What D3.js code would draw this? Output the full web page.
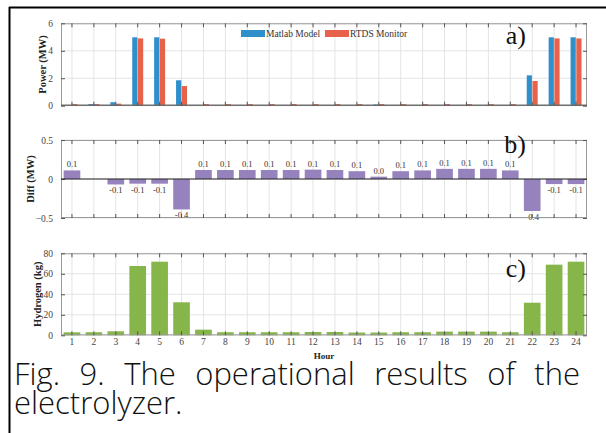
<!DOCTYPE html>
<html>
<head>
<meta charset="utf-8">
<script src="https://cdn.jsdelivr.net/npm/d3@7"></script>
<style>
  html, body { margin: 0; padding: 0; background: #fff; }
  #wrap { position: relative; width: 606px; height: 433px; overflow: hidden; }
  svg { position: absolute; left: 0; top: 0; }
  #caption {
    position: absolute; left: 14px; top: 359px; width: 566px;
    font-family: "Open Sans", "Noto Sans", sans-serif; font-weight: 300; font-size: 31px; line-height: 29px;
    text-align: justify; color: #111;
  }
</style>
</head>
<body>
<div id="wrap">
  <svg id="chart" width="606" height="433"></svg>
  <div id="caption">Fig. 9. The operational results of the electrolyzer.</div>
</div>
<script>
// Hourly operation of the electrolyzer
const hours = d3.range(1, 25);
const seriesNames = ["Matlab Model", "RTDS Monitor"];
const matlabPower = [0, 0.12, 0.25, 4.98, 4.98, 1.85, 0, 0, 0, 0, 0, 0, 0, 0, 0.09, 0, 0, 0, 0, 0, 0, 2.21, 4.98, 4.98];
const rtdsPower   = [0.12, 0.12, 0.15, 4.9, 4.88, 1.43, 0.12, 0.12, 0.12, 0.12, 0.12, 0.12, 0.12, 0.12, 0.12, 0.12, 0.12, 0.12, 0.12, 0.12, 0.12, 1.8, 4.9, 4.9];
const powerDiff   = [0.11, null, -0.07, -0.06, -0.06, -0.39, 0.115, 0.115, 0.115, 0.115, 0.115, 0.12, 0.115, 0.1, 0.03, 0.1, 0.11, 0.13, 0.13, 0.13, 0.11, -0.41, -0.065, -0.065];
const hydrogen    = [2.9, 3.0, 3.9, 67.6, 71.8, 32.2, 5.5, 3.0, 3.0, 3.0, 3.0, 3.2, 3.2, 2.7, 2.7, 3.0, 3.0, 3.6, 3.6, 3.6, 3.0, 31.8, 68.9, 71.8];
const powerTicks = [0, 2, 4, 6];
const diffTicks = [-0.5, 0, 0.5];
const hydrogenTicks = [0, 20, 40, 60, 80];

const colors = { "Matlab Model": "#2e8fcb", "RTDS Monitor": "#e8614b", diff: "#9682bd", hydrogen: "#86b64a" };
const serif = "'Liberation Serif', 'Times New Roman', serif";

const svg = d3.select("#chart");

// outer frame of the figure
svg.append("line").attr("x1", 9).attr("x2", 606).attr("y1", 7.5).attr("y2", 7.5)
  .attr("stroke", "#000").attr("stroke-width", 2);
svg.append("line").attr("x1", 9.5).attr("x2", 9.5).attr("y1", 7).attr("y2", 433)
  .attr("stroke", "#000").attr("stroke-width", 2);

const left = 61, right = 587;
const x = d3.scaleBand().domain(hours).range([left, right]).paddingInner(0.24).paddingOuter(0.12);
const xGroup = d3.scaleBand().domain(hours).range([left, right]).paddingInner(0.5).paddingOuter(0.25);
const xSub = d3.scaleBand().domain(seriesNames).range([0, xGroup.bandwidth()]).paddingInner(0.1);
const cx = h => x(h) + x.bandwidth() / 2;

// Common MATLAB-like axes box: grid, frame, inward ticks, y labels
function panel(y, ticks, fmt, yLabel, labelX, tag, tagY, showX) {
  const [y0, y1] = y.range();
  const g = svg.append("g");
  // grid
  g.append("g").selectAll("line").data(hours).join("line")
    .attr("x1", cx).attr("x2", cx).attr("y1", y1).attr("y2", y0)
    .attr("stroke", "#e4e4e4").attr("stroke-width", 1);
  g.append("g").selectAll("line").data(ticks).join("line")
    .attr("x1", left).attr("x2", right).attr("y1", d => y(d)).attr("y2", d => y(d))
    .attr("stroke", "#e4e4e4").attr("stroke-width", 1);
  const marks = svg.append("g");
  const over = svg.append("g");
  // frame
  over.append("rect").attr("x", left + 0.5).attr("y", y1 + 0.5)
    .attr("width", right - left - 1).attr("height", y0 - y1 - 1)
    .attr("fill", "none").attr("stroke", "#9a9a9a").attr("stroke-width", 1);
  // inward ticks on all four sides
  const axL = d3.axisLeft(y).tickValues(ticks).tickSize(-4).tickFormat(fmt).tickPadding(8);
  const axR = d3.axisRight(y).tickValues(ticks).tickSize(-4).tickFormat("");
  const axT = d3.axisTop(x).tickSize(-4).tickFormat("");
  const axB = d3.axisBottom(x).tickSize(-4).tickFormat(showX ? d => d : "").tickPadding(3);
  const style = sel => {
    sel.select(".domain").remove();
    sel.selectAll(".tick line").attr("stroke", "#555");
    sel.selectAll("text").attr("font-family", serif).attr("font-size", 9.5).attr("fill", "#444");
  };
  over.append("g").attr("transform", `translate(${left},0)`).call(axL).call(style);
  over.append("g").attr("transform", `translate(${right},0)`).call(axR).call(style);
  over.append("g").attr("transform", `translate(0,${y1})`).call(axT).call(style);
  over.append("g").attr("transform", `translate(0,${y0})`).call(axB).call(style);
  // y label
  over.append("text").attr("transform", `translate(${labelX},${(y0 + y1) / 2}) rotate(-90)`)
    .attr("text-anchor", "middle").attr("font-family", serif).attr("font-weight", "bold")
    .attr("font-size", 10.5).attr("fill", "#222").text(yLabel);
  // panel tag
  over.append("text").attr("x", 526).attr("y", tagY).attr("text-anchor", "end")
    .attr("font-family", serif).attr("font-size", 26).attr("fill", "#111").text(tag);
  return { marks, over };
}

// a) power
const yA = d3.scaleLinear().domain([0, 6]).range([105.7, 23.3]);
const pa = panel(yA, powerTicks, d3.format("d"), "Power (MW)", 46, "a)", 44, false);
const powerRows = hours.map((h, i) => ({ h, "Matlab Model": matlabPower[i], "RTDS Monitor": rtdsPower[i] }));
pa.marks.selectAll("g").data(powerRows).join("g")
  .attr("transform", d => `translate(${xGroup(d.h)},0)`)
  .selectAll("rect").data(d => seriesNames.map(k => ({ k, v: d[k] }))).join("rect")
  .attr("x", d => xSub(d.k)).attr("width", xSub.bandwidth())
  .attr("y", d => yA(d.v)).attr("height", d => yA(0) - yA(d.v))
  .attr("fill", d => colors[d.k]);
pa.over.append("line").attr("x1", left).attr("x2", right).attr("y1", yA(0) - 0.5).attr("y2", yA(0) - 0.5)
  .attr("stroke", "#555");

// legend
const legend = pa.over.append("g").attr("transform", "translate(241,30)");
const legX = d3.scalePoint().domain(seriesNames).range([0, 84]);
const li = legend.selectAll("g").data(seriesNames).join("g").attr("transform", d => `translate(${legX(d)},0)`);
li.append("rect").attr("width", 24).attr("height", 7).attr("fill", d => colors[d]);
li.append("text").attr("x", 25).attr("y", 7).attr("font-family", serif).attr("font-size", 9.5)
  .attr("fill", "#333").text(d => d);

// b) difference
const yB = d3.scaleLinear().domain([-0.5, 0.5]).range([218, 140]);
const pb = panel(yB, diffTicks, d => d === 0 ? "0" : d3.format(".1f")(d), "Diff (MW)", 34, "b)", 153, false);
const diffRows = hours.map((h, i) => ({ h, v: powerDiff[i] })).filter(d => d.v !== null);
pb.marks.selectAll("rect").data(diffRows).join("rect")
  .attr("x", d => x(d.h)).attr("width", x.bandwidth())
  .attr("y", d => yB(Math.max(0, d.v))).attr("height", d => Math.abs(yB(d.v) - yB(0)))
  .attr("fill", colors.diff);
pb.marks.selectAll("text").data(diffRows).join("text")
  .attr("x", d => cx(d.h)).attr("y", d => d.v >= 0 ? yB(d.v) - 3 : yB(d.v) + 9)
  .attr("text-anchor", "middle").attr("font-family", serif).attr("font-size", 8.5).attr("fill", "#333")
  .text(d => d3.format(".1f")(d.v).replace("−", "-"));
pb.over.append("line").attr("x1", left).attr("x2", right).attr("y1", yB(0)).attr("y2", yB(0))
  .attr("stroke", "#222");

// c) hydrogen
const yC = d3.scaleLinear().domain([0, 80]).range([335.3, 253.3]);
const pc = panel(yC, hydrogenTicks, d3.format("d"), "Hydrogen (kg)", 41, "c)", 277, true);
pc.marks.selectAll("rect").data(hours.map((h, i) => ({ h, v: hydrogen[i] }))).join("rect")
  .attr("x", d => x(d.h)).attr("width", x.bandwidth())
  .attr("y", d => yC(d.v)).attr("height", d => yC(0) - yC(d.v))
  .attr("fill", colors.hydrogen);
pc.over.append("text").attr("x", (left + right) / 2).attr("y", 359).attr("text-anchor", "middle")
  .attr("font-family", serif).attr("font-weight", "bold").attr("font-size", 9).attr("fill", "#222").text("Hour");
</script>
</body>
</html>
